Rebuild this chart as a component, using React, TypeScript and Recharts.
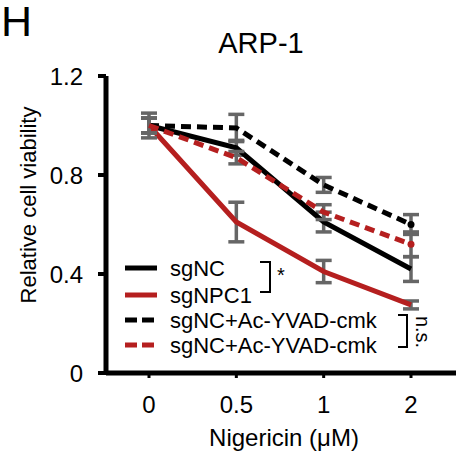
import { LineChart, Line, XAxis, YAxis, ErrorBar, Legend } from "recharts";

const doses = ["0", "0.5", "1", "2"];
const sgNC = [1.0, 0.91, 0.61, 0.42];
const sgNPC1 = [1.0, 0.61, 0.41, 0.275];
const sgNCYvad = [1.0, 0.99, 0.76, 0.6];
const sgNCYvad2 = [1.0, 0.87, 0.65, 0.52];
const sgNCErr = [0.03, 0.03, 0.04, 0.05];
const sgNPC1Err = [0.03, 0.08, 0.045, 0.016];
const sgNCYvadErr = [0.05, 0.055, 0.03, 0.04];
const sgNCYvad2Err = [0.03, 0.025, 0.03, 0.05];
const yTicks = [0, 0.4, 0.8, 1.2];

const legendItems = [
  { label: "sgNC", color: "#000000", dash: false },
  { label: "sgNPC1", color: "#B51F1F", dash: false },
  { label: "sgNC+Ac-YVAD-cmk", color: "#000000", dash: true },
  { label: "sgNC+Ac-YVAD-cmk", color: "#B51F1F", dash: true },
];

const data = doses.map((d, i) => ({
  dose: d,
  sgNC: sgNC[i],
  sgNPC1: sgNPC1[i],
  yvad: sgNCYvad[i],
  yvad2: sgNCYvad2[i],
  sgNCErr: sgNCErr[i],
  sgNPC1Err: sgNPC1Err[i],
  yvadErr: sgNCYvadErr[i],
  yvad2Err: sgNCYvad2Err[i],
}));

const RED = "#B51F1F";
const GREY = "#666666";
const font = "'Liberation Sans', Arial, sans-serif";

// small dot only on the last point, as in the figure
const endDot = (color: string) => (props: any) =>
  props.index === doses.length - 1 ? (
    <circle key={props.index} cx={props.cx} cy={props.cy} r={3.5} fill={color} stroke="none" />
  ) : (
    <g key={props.index} />
  );

function LegendBox() {
  const rows = [18, 45, 70, 95];
  return (
    <svg width={330} height={110} style={{ fontFamily: font, display: "block" }}>
      {legendItems.map((it, i) => (
        <g key={i}>
          <line
            x1={5}
            x2={37}
            y1={rows[i]}
            y2={rows[i]}
            stroke={it.color}
            strokeWidth={5}
            strokeDasharray={it.dash ? "12 5" : undefined}
          />
          <text x={50} y={rows[i]} dominantBaseline="central" fontSize={22} fill="#000">
            {it.label}
          </text>
        </g>
      ))}
      <path d="M140,12 H150 V42 H140" fill="none" stroke="#000" strokeWidth={2} />
      <text x={157} y={32} fontSize={20} fill="#000">*</text>
      <path d="M278,65 H287 V97 H278" fill="none" stroke="#000" strokeWidth={2} />
      <text x={296} y={82} fontSize={20} fill="#000" textAnchor="middle" transform="rotate(90 296 82)">
        n.s.
      </text>
    </svg>
  );
}

export default function App() {
  return (
    <div style={{ position: "absolute", left: 0, top: 0, width: 458, height: 452, background: "#fff", fontFamily: font }}>
      <svg width={458} height={452} style={{ position: "absolute", left: 0, top: 0 }}>
        <text x={1} y={36} fontSize={43} fill="#000">H</text>
        <text x={261} y={53} textAnchor="middle" fontSize={29} fill="#000">ARP-1</text>
        <text x={36} y={205} textAnchor="middle" fontSize={22} fill="#000" transform="rotate(-90 36 205)">
          Relative cell viability
        </text>
        <text x={284} y={446} textAnchor="middle" fontSize={24} fill="#000">Nigericin (μM)</text>
      </svg>
      <LineChart
        width={458}
        height={452}
        data={data}
        margin={{ top: 76, right: 2, left: 0, bottom: 49 }}
        style={{ position: "absolute", left: 0, top: 0 }}
      >
        <XAxis
          dataKey="dose"
          height={30}
          padding={{ left: 43, right: 45 }}
          axisLine={{ stroke: "#000", strokeWidth: 5 }}
          tickLine={{ stroke: "#000", strokeWidth: 3 }}
          tickSize={5}
          tickMargin={18}
          tick={{ fill: "#000", fontSize: 24, fontFamily: font }}
        />
        <YAxis
          width={106}
          domain={[0, 1.2]}
          ticks={yTicks}
          tickFormatter={(v) => String(v)}
          axisLine={{ stroke: "#000", strokeWidth: 5 }}
          tickLine={{ stroke: "#000", strokeWidth: 4 }}
          tickSize={8}
          tickMargin={15}
          tick={{ fill: "#000", fontSize: 24, fontFamily: font }}
        />
        <Line dataKey="sgNPC1" stroke={RED} strokeWidth={5} dot={false} isAnimationActive={false}>
          <ErrorBar dataKey="sgNPC1Err" stroke={GREY} strokeWidth={3.5} width={8} />
        </Line>
        <Line dataKey="sgNC" stroke="#000" strokeWidth={5} dot={false} isAnimationActive={false}>
          <ErrorBar dataKey="sgNCErr" stroke={GREY} strokeWidth={3.5} width={8} />
        </Line>
        <Line
          dataKey="yvad"
          stroke="#000"
          strokeWidth={5}
          strokeDasharray="10 6"
          dot={endDot("#000")}
          isAnimationActive={false}
        >
          <ErrorBar dataKey="yvadErr" stroke={GREY} strokeWidth={3.5} width={8} />
        </Line>
        <Line
          dataKey="yvad2"
          stroke={RED}
          strokeWidth={5}
          strokeDasharray="10 6"
          dot={endDot(RED)}
          isAnimationActive={false}
        >
          <ErrorBar dataKey="yvad2Err" stroke={GREY} strokeWidth={3.5} width={8} />
        </Line>
        <Legend
          layout="horizontal"
          verticalAlign="middle"
          align="center"
          content={() => <LegendBox />}
          wrapperStyle={{ position: "absolute", left: 120, top: 250, width: 330, height: 110 }}
        />
      </LineChart>
    </div>
  );
}
